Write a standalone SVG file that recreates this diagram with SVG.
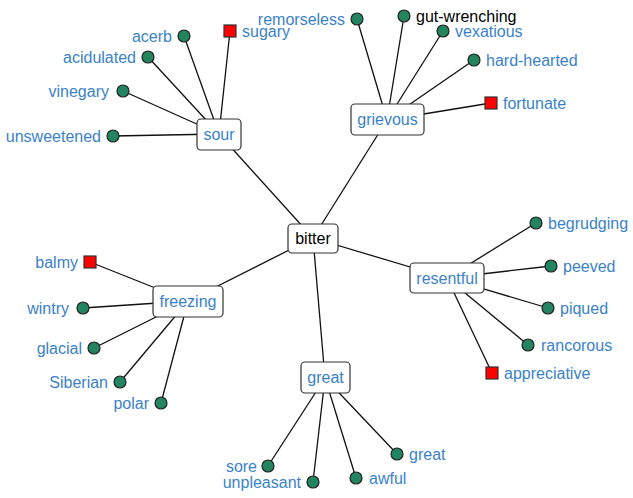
<svg xmlns="http://www.w3.org/2000/svg" width="633" height="498" viewBox="0 0 633 498">
<style>
text{font-family:"Liberation Sans",Arial,sans-serif;font-size:16px;fill:#3a82c8}
.hub text{fill:#000}
.box{fill:#fff;stroke:#333;stroke-width:1.2}
.leaf{fill:#23855f;stroke:#222;stroke-width:1.2}
.ant{fill:#f00;stroke:#333;stroke-width:1.2}
.e{stroke:#111;stroke-width:1.3;fill:none}
.black{fill:#000}
</style>
<rect width="633" height="498" fill="#fff"/>
<g id="connectors" class="e">
<line x1="313" y1="238" x2="219" y2="134"/>
<line x1="313" y1="238" x2="387" y2="120"/>
<line x1="313" y1="238" x2="188" y2="301"/>
<line x1="313" y1="238" x2="447" y2="278"/>
<line x1="313" y1="238" x2="325" y2="378"/>
<line x1="219" y1="134" x2="184" y2="36"/>
<line x1="219" y1="134" x2="230" y2="31"/>
<line x1="219" y1="134" x2="148" y2="57"/>
<line x1="219" y1="134" x2="123" y2="91"/>
<line x1="219" y1="134" x2="113" y2="136"/>
<line x1="387" y1="120" x2="357" y2="19"/>
<line x1="387" y1="120" x2="404" y2="16"/>
<line x1="387" y1="120" x2="443" y2="31"/>
<line x1="387" y1="120" x2="474" y2="60"/>
<line x1="387" y1="120" x2="491" y2="103"/>
<line x1="188" y1="301" x2="90" y2="262"/>
<line x1="188" y1="301" x2="83" y2="308"/>
<line x1="188" y1="301" x2="94" y2="348"/>
<line x1="188" y1="301" x2="120" y2="382"/>
<line x1="188" y1="301" x2="161" y2="403"/>
<line x1="447" y1="278" x2="536" y2="223"/>
<line x1="447" y1="278" x2="551" y2="266"/>
<line x1="447" y1="278" x2="548" y2="308"/>
<line x1="447" y1="278" x2="528" y2="345"/>
<line x1="447" y1="278" x2="492" y2="373"/>
<line x1="325" y1="378" x2="268" y2="466"/>
<line x1="325" y1="378" x2="313" y2="482"/>
<line x1="325" y1="378" x2="356" y2="478"/>
<line x1="325" y1="378" x2="397" y2="454"/>
</g>
<g id="bitter" class="hub"><rect class="box" x="288" y="224" width="50" height="29" rx="4"/><text x="313" y="244" text-anchor="middle">bitter</text></g>
<g id="sour"><rect class="box" x="197" y="119" width="44" height="31" rx="4"/><text x="219" y="140" text-anchor="middle">sour</text></g>
<g id="grievous"><rect class="box" x="351" y="104" width="73" height="31" rx="4"/><text x="387.5" y="125" text-anchor="middle">grievous</text></g>
<g id="freezing"><rect class="box" x="153" y="286" width="70" height="31" rx="4"/><text x="188" y="307" text-anchor="middle">freezing</text></g>
<g id="resentful"><rect class="box" x="410" y="263" width="74" height="30" rx="4"/><text x="447" y="284" text-anchor="middle">resentful</text></g>
<g id="great"><rect class="box" x="301" y="362" width="49" height="31" rx="4"/><text x="325.5" y="383" text-anchor="middle">great</text></g>
<g id="acerb"><circle class="leaf" cx="184" cy="36" r="6"/><text x="172" y="42" text-anchor="end">acerb</text></g>
<g id="sugary"><rect class="ant" x="224" y="25" width="12" height="12"/><text x="242" y="37">sugary</text></g>
<g id="acidulated"><circle class="leaf" cx="148" cy="57" r="6"/><text x="136" y="63" text-anchor="end">acidulated</text></g>
<g id="vinegary"><circle class="leaf" cx="123" cy="91" r="6"/><text x="109" y="97" text-anchor="end">vinegary</text></g>
<g id="unsweetened"><circle class="leaf" cx="113" cy="136" r="6"/><text x="101" y="142" text-anchor="end">unsweetened</text></g>
<g id="remorseless"><circle class="leaf" cx="357" cy="19" r="6"/><text x="345" y="25" text-anchor="end">remorseless</text></g>
<g id="gut-wrenching"><circle class="leaf" cx="404" cy="16" r="6"/><text class="black" x="416" y="22">gut-wrenching</text></g>
<g id="vexatious"><circle class="leaf" cx="443" cy="31" r="6"/><text x="455" y="37">vexatious</text></g>
<g id="hard-hearted"><circle class="leaf" cx="474" cy="60" r="6"/><text x="486" y="66">hard-hearted</text></g>
<g id="fortunate"><rect class="ant" x="485" y="97" width="12" height="12"/><text x="503" y="109">fortunate</text></g>
<g id="balmy"><rect class="ant" x="84" y="256" width="12" height="12"/><text x="78" y="268" text-anchor="end">balmy</text></g>
<g id="wintry"><circle class="leaf" cx="83" cy="308" r="6"/><text x="69" y="314" text-anchor="end">wintry</text></g>
<g id="glacial"><circle class="leaf" cx="94" cy="348" r="6"/><text x="82" y="354" text-anchor="end">glacial</text></g>
<g id="Siberian"><circle class="leaf" cx="120" cy="382" r="6"/><text x="108" y="388" text-anchor="end">Siberian</text></g>
<g id="polar"><circle class="leaf" cx="161" cy="403" r="6"/><text x="149" y="409" text-anchor="end">polar</text></g>
<g id="begrudging"><circle class="leaf" cx="536" cy="223" r="6"/><text x="548" y="229">begrudging</text></g>
<g id="peeved"><circle class="leaf" cx="551" cy="266" r="6"/><text x="563" y="272">peeved</text></g>
<g id="piqued"><circle class="leaf" cx="548" cy="308" r="6"/><text x="560" y="314">piqued</text></g>
<g id="rancorous"><circle class="leaf" cx="528" cy="345" r="6"/><text x="541" y="351">rancorous</text></g>
<g id="appreciative"><rect class="ant" x="486" y="367" width="12" height="12"/><text x="504" y="379">appreciative</text></g>
<g id="sore"><circle class="leaf" cx="268" cy="466" r="6"/><text x="257" y="472" text-anchor="end">sore</text></g>
<g id="unpleasant"><circle class="leaf" cx="313" cy="482" r="6"/><text x="301" y="488" text-anchor="end">unpleasant</text></g>
<g id="awful"><circle class="leaf" cx="356" cy="478" r="6"/><text x="369" y="484">awful</text></g>
<g id="great-leaf"><circle class="leaf" cx="397" cy="454" r="6"/><text x="409" y="460">great</text></g>
</svg>
